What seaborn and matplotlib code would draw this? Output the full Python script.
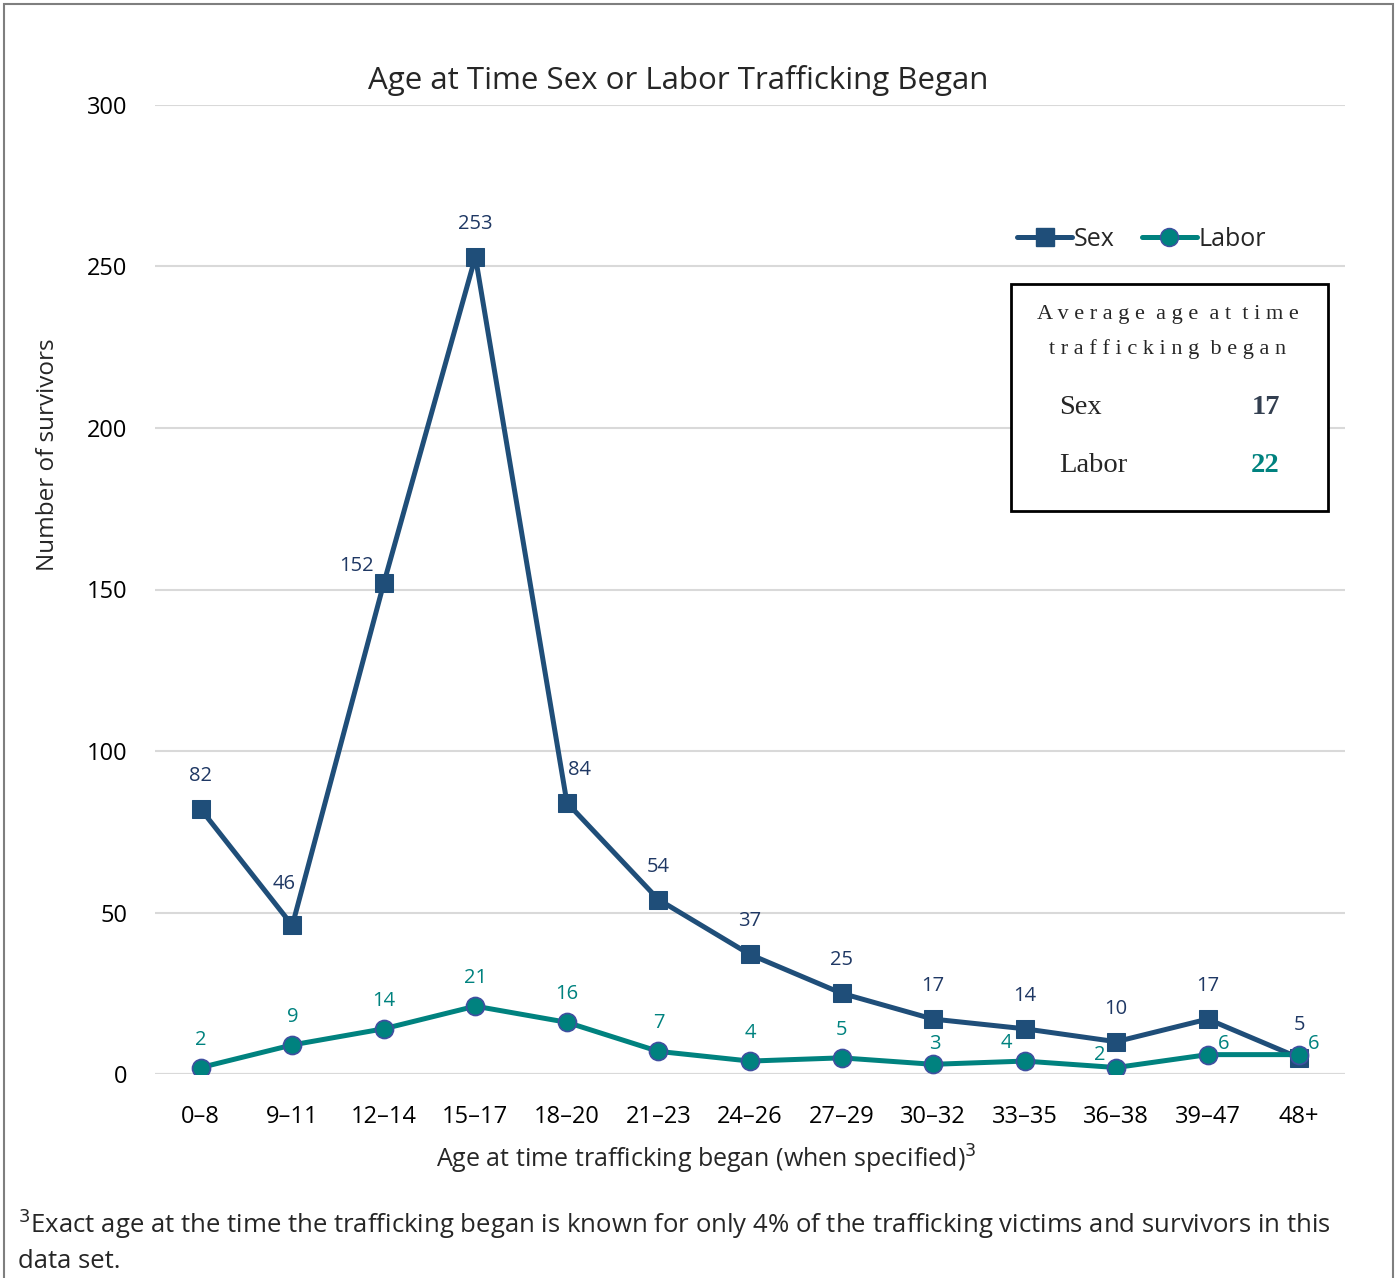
import pandas as pd
import numpy as np
from matplotlib import pyplot as plt
from matplotlib.patches import Rectangle
from matplotlib.lines import Line2D
import seaborn as sns

# data
age_groups = ['0–8', '9–11', '12–14', '15–17', '18–20', '21–23', '24–26',
              '27–29', '30–32', '33–35', '36–38', '39–47', '48+']
sex_counts = [82, 46, 152, 253, 84, 54, 37, 25, 17, 14, 10, 17, 5]
labor_counts = [2, 9, 14, 21, 16, 7, 4, 5, 3, 4, 2, 6, 6]
avg_sex = 17
avg_labor = 22

SEX_C = '#1F4E79'
LABOR_C = '#00827F'
SEX_TXT = '#1F3864'

df = pd.DataFrame({'pos': list(range(len(age_groups))) * 2,
                   'count': sex_counts + labor_counts,
                   'type': ['Sex'] * len(age_groups) + ['Labor'] * len(age_groups)})

sns.set_style("white")
plt.rcParams['font.family'] = ['Open Sans', 'DejaVu Sans']

W, H = 1398, 1278
fig = plt.figure(figsize=(W / 100, H / 100), dpi=100)
ax = fig.add_axes([155 / W, 1 - 1074 / H, 1190 / W, 969 / H])

sns.lineplot(data=df, x='pos', y='count', hue='type', style='type',
             palette={'Sex': SEX_C, 'Labor': LABOR_C},
             markers={'Sex': 's', 'Labor': 'o'}, dashes=False,
             linewidth=3.6, markersize=13, ax=ax, legend=False)
for ln in ax.lines:
    if str(ln.get_color()).lower() == LABOR_C.lower():
        ln.set_markeredgecolor('#3F4FA0')
        ln.set_markeredgewidth(1.2)
    else:
        ln.set_markeredgecolor(SEX_C)

ax.set_xlim(-0.5, len(age_groups) - 0.5)
ax.set_ylim(0, 300)
ax.set_yticks(range(0, 301, 50))
ax.set_xticks(range(len(age_groups)))
ax.set_xticklabels(age_groups)
ax.tick_params(axis='both', labelsize=17, length=0, colors='black')
ax.tick_params(axis='x', pad=22)
ax.tick_params(axis='y', pad=20)
ax.grid(axis='y', color='#D9D9D9', linewidth=1.5)
ax.set_axisbelow(True)
for s in ax.spines.values():
    s.set_visible(False)
ax.axhline(0, color='#D9D9D9', linewidth=1.5, zorder=0)

ax.set_xlabel('')
ax.set_ylabel('')
fig.text(706 / W, 1 - 1159 / H, 'Age at time trafficking began (when specified)$^{3}$',
         ha='center', va='center', fontsize=18)
fig.text(48 / W, 1 - 455 / H, 'Number of survivors', rotation=90,
         ha='center', va='center', fontsize=17.5)
fig.text(678 / W, 1 - 80 / H, 'Age at Time Sex or Labor Trafficking Began',
         ha='center', va='center', fontsize=22.5)

# data labels (offsets in pixels, label centre relative to point)
sex_off = {1: (-8, 41), 2: (-27, 17), 4: (13, 33)}
for i, v in enumerate(sex_counts):
    dx, dy = sex_off.get(i, (0, 33))
    ax.annotate(str(v), (i, v), xytext=(dx, dy), textcoords='offset pixels',
                ha='center', va='center', fontsize=14.5, color=SEX_TXT)
lab_off = {8: (2, 20), 9: (-18, 18), 10: (-16, 13), 11: (16, 11), 12: (14, 11)}
for i, v in enumerate(labor_counts):
    dx, dy = lab_off.get(i, (0, 28))
    ax.annotate(str(v), (i, v), xytext=(dx, dy), textcoords='offset pixels',
                ha='center', va='center', fontsize=14.5, color=LABOR_C)

# legend
handles = [Line2D([], [], color=SEX_C, marker='s', lw=3.6, markersize=13),
           Line2D([], [], color=LABOR_C, marker='o', lw=3.6, markersize=13,
                  markeredgecolor='#3F4FA0')]
ax.legend(handles, ['Sex', 'Labor'], loc='center right',
          bbox_to_anchor=((1278 - 155) / 1190, (1074 - 239) / 969),
          ncol=2, frameon=False, fontsize=18, handlelength=2.2, handletextpad=0.05,
          columnspacing=1.1, borderpad=0)

# average age box
box_l, box_b, box_w, box_h = 1011 / W, 1 - 511 / H, 317 / W, 227 / H
fig.patches.append(Rectangle((box_l, box_b), box_w, box_h, transform=fig.transFigure,
                             facecolor='white', edgecolor='black', linewidth=2, zorder=5))
serif = ['Liberation Serif', 'DejaVu Serif']
fig.text(1168 / W, 1 - 314 / H, 'A v e r a g e  a g e  a t  t i m e',
         ha='center', va='center', fontsize=16, family=serif, zorder=6)
fig.text(1168 / W, 1 - 349 / H, 't r a f f i c k i n g  b e g a n',
         ha='center', va='center', fontsize=16, family=serif, zorder=6)
fig.text(1059 / W, 1 - 408 / H, 'Sex', ha='left', va='center', fontsize=20.5,
         family=serif, zorder=6)
fig.text(1059 / W, 1 - 466 / H, 'Labor', ha='left', va='center', fontsize=20.5,
         family=serif, zorder=6)
fig.text(1280 / W, 1 - 408 / H, str(avg_sex), ha='right', va='center', fontsize=20.5,
         family=serif, weight='bold', color='#333F50', zorder=6)
fig.text(1280 / W, 1 - 466 / H, str(avg_labor), ha='right', va='center', fontsize=20.5,
         family=serif, weight='bold', color=LABOR_C, zorder=6)

# footnote
fig.text(18 / W, 1 - 1224 / H,
         '$^{3}$Exact age at the time the trafficking began is known for only 4% of the '
         'trafficking victims and survivors in this', ha='left', va='center', fontsize=18.5)
fig.text(18 / W, 1 - 1262 / H, 'data set.', ha='left', va='center', fontsize=18.5)

# outer frame
fig.patches.append(Rectangle((4 / W, -0.01), 1389 / W, 1 - 4 / H + 0.01,
                             transform=fig.transFigure, facecolor='none',
                             edgecolor='#7F7F7F', linewidth=1.5))
ax.set_zorder(2)
plt.savefig('out.png', dpi=100)
